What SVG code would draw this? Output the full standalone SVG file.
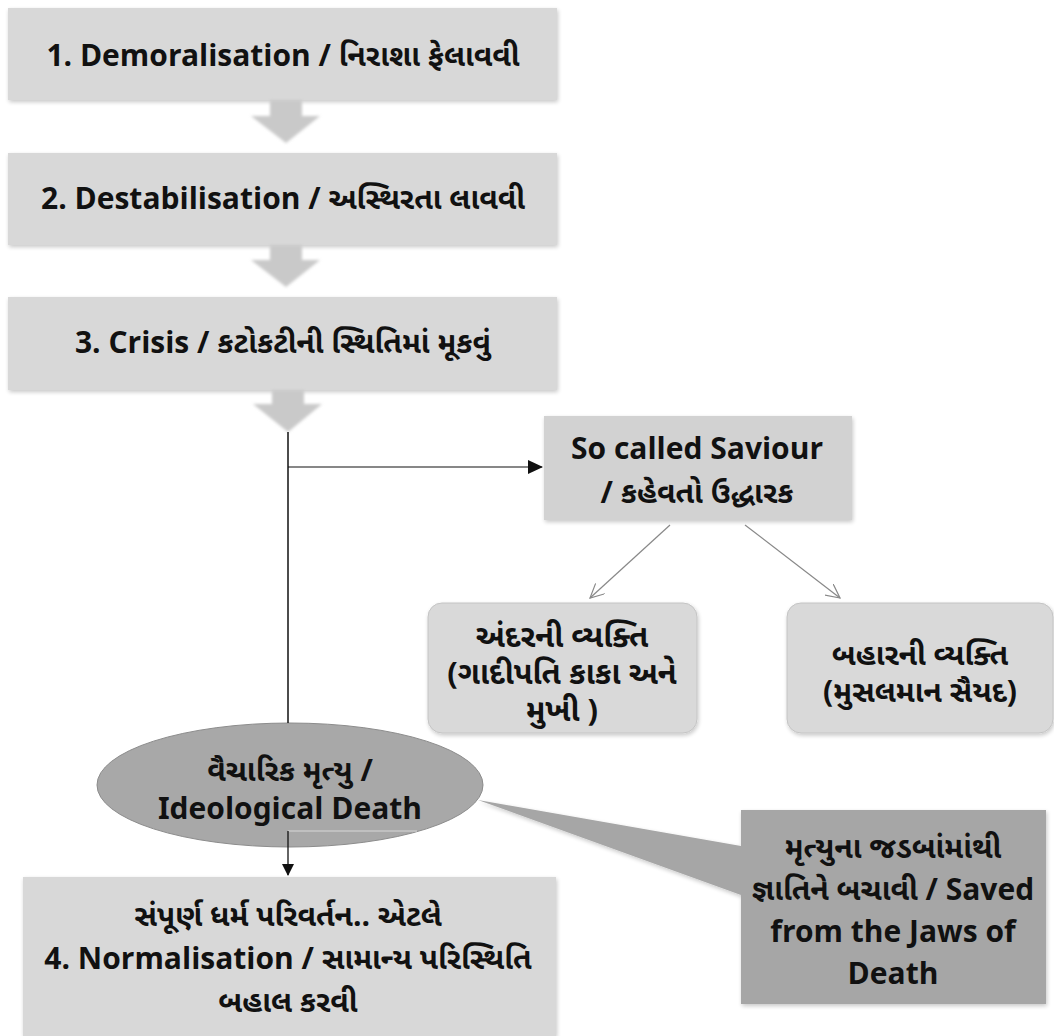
<svg xmlns="http://www.w3.org/2000/svg" width="1054" height="1036" viewBox="0 0 1054 1036">
<defs>
<filter id="sh" x="-5%" y="-5%" width="110%" height="115%"><feGaussianBlur in="SourceAlpha" stdDeviation="2"/><feOffset dx="1" dy="2"/><feComponentTransfer><feFuncA type="linear" slope="0.22"/></feComponentTransfer><feMerge><feMergeNode/><feMergeNode in="SourceGraphic"/></feMerge></filter>
<filter id="bl"><feGaussianBlur stdDeviation="1.5"/></filter>
<marker id="ah" markerWidth="12" markerHeight="12" refX="11" refY="6" orient="auto" markerUnits="userSpaceOnUse"><path d="M0,0 L12,6 L0,12 z" fill="#111"/></marker>
<marker id="ah2" markerWidth="15" markerHeight="14" refX="14" refY="7" orient="auto" markerUnits="userSpaceOnUse"><path d="M0,0 L15,7 L0,14 z" fill="#111"/></marker>
<marker id="oa" markerWidth="16" markerHeight="14" refX="14" refY="7" orient="auto" markerUnits="userSpaceOnUse"><path d="M0,0 L14,7 L0,14" fill="none" stroke="#888" stroke-width="1.2"/></marker>
</defs>
<style>
text{font-family:"Noto Sans Gujarati","Lohit Gujarati","Noto Sans","Open Sans",sans-serif;font-weight:bold;fill:#111;text-anchor:middle}
.t{font-size:30px}
.g{font-size:31px}
.box{fill:#d8d8d8}
.chev{fill:#c9c9c9}
.rbox{fill:#d9d9d9;stroke:#c4c4c4;stroke-width:1}
</style>
<rect width="1054" height="1036" fill="#ffffff"/>

<g id="n1"><rect class="box" x="8" y="8" width="549" height="92" filter="url(#sh)"/><text class="t" x="283" y="66">1. Demoralisation / નિરાશા ફેલાવવી</text></g>
<g id="n2"><rect class="box" x="8" y="153" width="549" height="92" filter="url(#sh)"/><text class="t" x="283" y="209">2. Destabilisation / અસ્થિરતા લાવવી</text></g>
<g id="n3"><rect class="box" x="8" y="297" width="549" height="93" filter="url(#sh)"/><text class="t" x="283" y="353">3. Crisis / કટોકટીની સ્થિતિમાં મૂકવું</text></g>

<g id="chevrons" filter="url(#bl)">
<path class="chev" d="M270,100 H302 V116 H320 L286,143 L251,116 H270 Z"/>
<path class="chev" d="M270,245 H302 V260 H320 L286,287 L251,260 H270 Z"/>
<path class="chev" d="M272,390 H304 V404 H322 L288,432 L253,404 H272 Z"/>
</g>

<g id="saviour"><rect x="544" y="416" width="308" height="104" fill="#d2d2d2" filter="url(#sh)"/><text class="t" x="697" y="459">So called Saviour</text><text class="t" x="697" y="503">/ કહેવતો ઉદ્ધારક</text></g>

<g id="inner"><rect class="rbox" x="428" y="603" width="269" height="130" rx="14" filter="url(#sh)"/><text class="g" x="562" y="647">અંદરની વ્યક્તિ</text><text class="g" x="562" y="684">(ગાદીપતિ કાકા અને</text><text class="g" x="562" y="721">મુખી )</text></g>
<g id="outer"><rect class="rbox" x="787" y="603" width="266" height="130" rx="14" filter="url(#sh)"/><text class="t" x="920" y="665">બહારની વ્યક્તિ</text><text class="t" x="920" y="702">(મુસલમાન સૈયદ)</text></g>

<g id="callout"><path d="M478,800 L741,846 L741,810 L1046,810 L1046,1004 L741,1004 L741,895 Z" fill="#a6a6a6" filter="url(#sh)"/><text class="t" x="893" y="858">મૃત્યુના જડબાંમાંથી</text><text class="t" x="893" y="900">જ્ઞાતિને બચાવી / Saved</text><text class="t" x="893" y="942">from the Jaws of</text><text class="t" x="893" y="984">Death</text></g>

<g id="ellipse"><ellipse cx="290" cy="785" rx="193" ry="62" fill="#a8a8a8" stroke="#8c8c8c" stroke-width="1"/><text class="t" x="290" y="781">વૈચારિક મૃત્યુ /</text><text class="t" x="290" y="819">Ideological Death</text></g>

<g id="n4"><rect class="box" x="23" y="877" width="533" height="159" filter="url(#sh)"/><text class="t" x="288" y="926">સંપૂર્ણ ધર્મ પરિવર્તન.. એટલે</text><text class="t" x="288" y="969">4. Normalisation / સામાન્ય પરિસ્થિતિ</text><text class="t" x="288" y="1012">બહાલ કરવી</text></g>

<g id="connectors" fill="none">
<line x1="288" y1="432" x2="288" y2="723" stroke="#111" stroke-width="1.5"/>
<line x1="288" y1="467" x2="542" y2="467" stroke="#111" stroke-width="1.2" marker-end="url(#ah2)"/>
<line x1="670" y1="525" x2="590" y2="598" stroke="#888" stroke-width="1.2" marker-end="url(#oa)"/>
<line x1="745" y1="525" x2="840" y2="598" stroke="#888" stroke-width="1.2" marker-end="url(#oa)"/>
<polyline points="417,831 288,831" stroke="#c8c8c8" stroke-width="1.5"/>
<line x1="288" y1="831" x2="288" y2="875" stroke="#111" stroke-width="1.3" marker-end="url(#ah)"/>
</g>
</svg>
